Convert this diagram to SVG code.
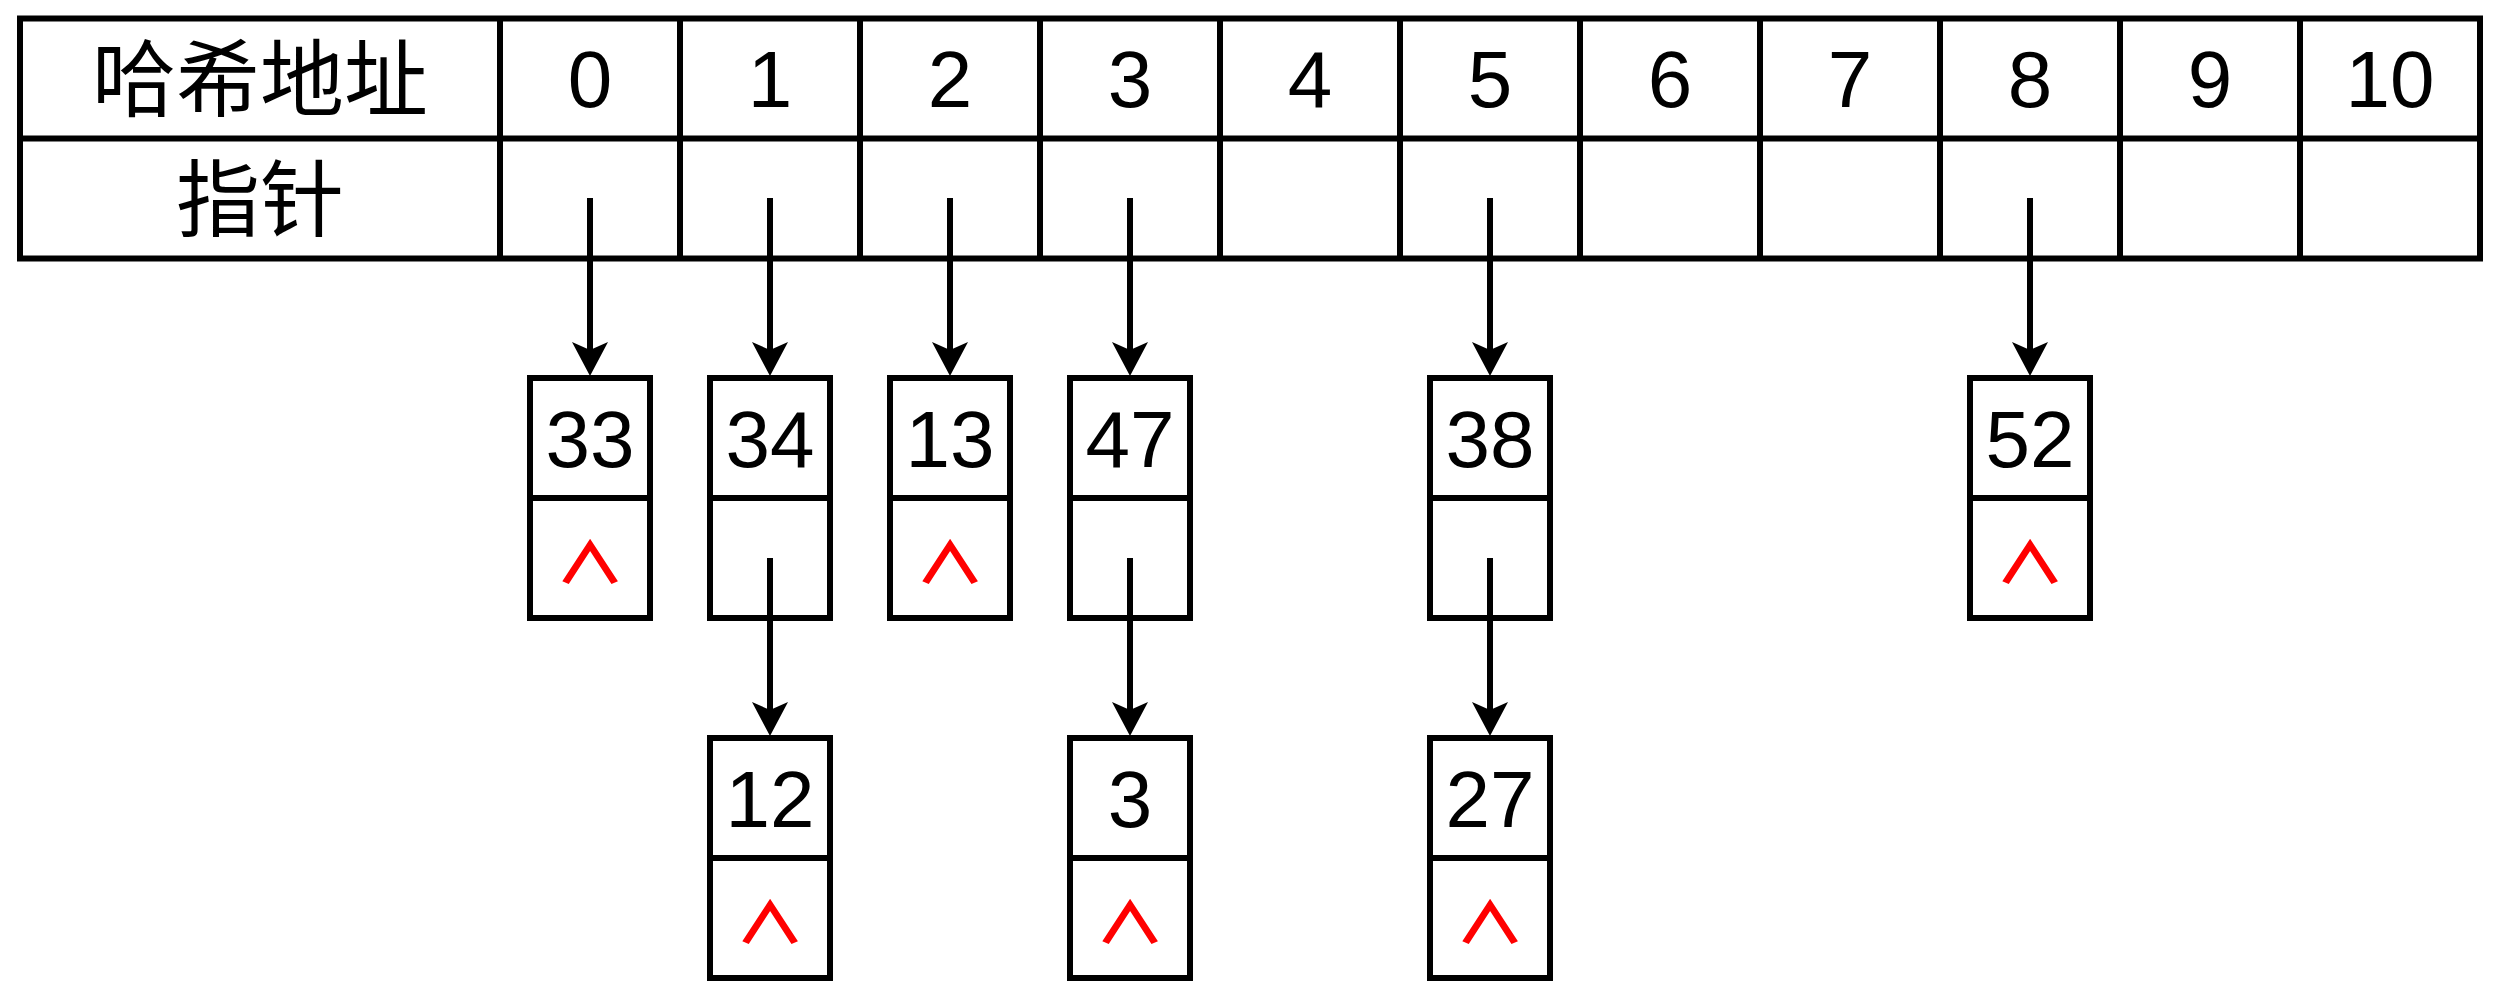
<svg xmlns="http://www.w3.org/2000/svg" width="2497" height="998" viewBox="0 0 2497 998">
<style>
.ln{stroke:#000;stroke-width:6;fill:none}
.box{stroke:#000;stroke-width:6;fill:#fff}
.num{font-family:"Liberation Sans",Arial,sans-serif;font-size:80px;fill:#000;text-anchor:middle}
.cjk{font-family:"Liberation Sans","Noto Sans CJK SC",sans-serif;font-size:84px;fill:#000;text-anchor:middle}
.nil{font-family:"Noto Sans CJK SC",sans-serif;font-size:57px;font-weight:bold;fill:#f00;text-anchor:middle}
.arr{stroke:#000;stroke-width:6;fill:none;marker-end:url(#ah)}
</style>
<defs>
<marker id="ah" markerUnits="userSpaceOnUse" viewBox="0 0 36 36" markerWidth="36" markerHeight="36" refX="10" refY="18" orient="auto">
<path d="M0,0 L34,18 L0,36 L8,18 Z" fill="#000"/>
</marker>
</defs>
<rect width="2497" height="998" fill="#fff"/>
<g id="table">
<rect class="box" x="20" y="18.5" width="2460" height="240"/>
<path class="ln" d="M20,138.5H2480 M500,18.5V258.5 M680,18.5V258.5 M860,18.5V258.5 M1040,18.5V258.5 M1220,18.5V258.5 M1400,18.5V258.5 M1580,18.5V258.5 M1760,18.5V258.5 M1940,18.5V258.5 M2120,18.5V258.5 M2300,18.5V258.5"/>
<text class="cjk" x="260" y="110">哈希地址</text>
<text class="cjk" x="260" y="230">指针</text>
<text class="num" x="590" y="107">0</text>
<text class="num" x="770" y="107">1</text>
<text class="num" x="950" y="107">2</text>
<text class="num" x="1130" y="107">3</text>
<text class="num" x="1310" y="107">4</text>
<text class="num" x="1490" y="107">5</text>
<text class="num" x="1670" y="107">6</text>
<text class="num" x="1850" y="107">7</text>
<text class="num" x="2030" y="107">8</text>
<text class="num" x="2210" y="107">9</text>
<text class="num" x="2390" y="107">10</text>
</g>
<g id="n33"><rect class="box" x="530" y="378" width="120" height="240"/><path class="ln" d="M530,498H650"/><text class="num" x="590" y="467">33</text><text class="nil" transform="translate(590,583) scale(1.25,1)">∧</text></g>
<g id="n34"><rect class="box" x="710" y="378" width="120" height="240"/><path class="ln" d="M710,498H830"/><text class="num" x="770" y="467">34</text></g>
<g id="n13"><rect class="box" x="890" y="378" width="120" height="240"/><path class="ln" d="M890,498H1010"/><text class="num" x="950" y="467">13</text><text class="nil" transform="translate(950,583) scale(1.25,1)">∧</text></g>
<g id="n47"><rect class="box" x="1070" y="378" width="120" height="240"/><path class="ln" d="M1070,498H1190"/><text class="num" x="1130" y="467">47</text></g>
<g id="n38"><rect class="box" x="1430" y="378" width="120" height="240"/><path class="ln" d="M1430,498H1550"/><text class="num" x="1490" y="467">38</text></g>
<g id="n52"><rect class="box" x="1970" y="378" width="120" height="240"/><path class="ln" d="M1970,498H2090"/><text class="num" x="2030" y="467">52</text><text class="nil" transform="translate(2030,583) scale(1.25,1)">∧</text></g>
<g id="n12"><rect class="box" x="710" y="738" width="120" height="240"/><path class="ln" d="M710,858H830"/><text class="num" x="770" y="827">12</text><text class="nil" transform="translate(770,943) scale(1.25,1)">∧</text></g>
<g id="n3"><rect class="box" x="1070" y="738" width="120" height="240"/><path class="ln" d="M1070,858H1190"/><text class="num" x="1130" y="827">3</text><text class="nil" transform="translate(1130,943) scale(1.25,1)">∧</text></g>
<g id="n27"><rect class="box" x="1430" y="738" width="120" height="240"/><path class="ln" d="M1430,858H1550"/><text class="num" x="1490" y="827">27</text><text class="nil" transform="translate(1490,943) scale(1.25,1)">∧</text></g>
<g id="connectors">
<path class="arr" d="M590,198V352"/>
<path class="arr" d="M770,198V352"/>
<path class="arr" d="M950,198V352"/>
<path class="arr" d="M1130,198V352"/>
<path class="arr" d="M1490,198V352"/>
<path class="arr" d="M2030,198V352"/>
<path class="arr" d="M770,558V712"/>
<path class="arr" d="M1130,558V712"/>
<path class="arr" d="M1490,558V712"/>
</g>
</svg>
